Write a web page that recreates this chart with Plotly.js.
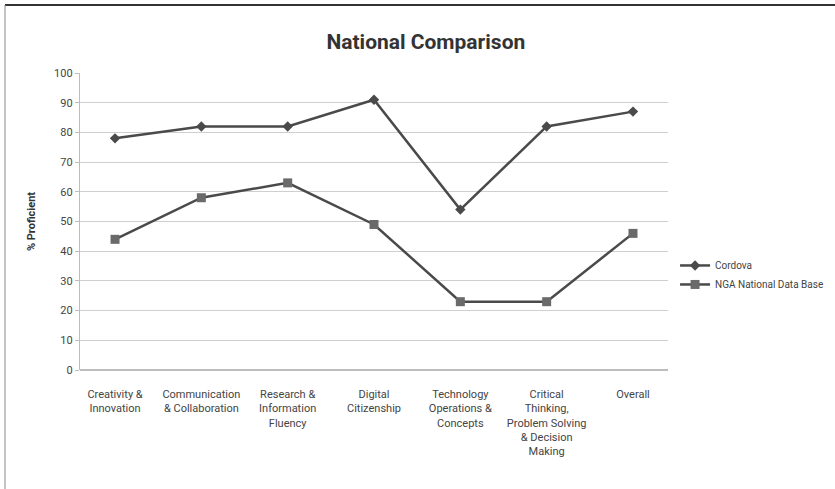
<!DOCTYPE html>
<html>
<head>
<meta charset="utf-8">
<script src="https://cdn.plot.ly/plotly-3.0.1.min.js"></script>
<style>html,body{margin:0;padding:0;background:#fff;}#chart{width:835px;height:489px;}</style>
</head>
<body>
<div id="chart"></div>
<script>
var categories = [
  "Creativity &<br>Innovation",
  "Communication<br>& Collaboration",
  "Research &<br>Information<br>Fluency",
  "Digital<br>Citizenship",
  "Technology<br>Operations &<br>Concepts",
  "Critical<br>Thinking,<br>Problem Solving<br>& Decision<br>Making",
  "Overall"
];
var cordova = [78, 82, 82, 91, 54, 82, 87];
var nga = [44, 58, 63, 49, 23, 23, 46];
var yTicks = [0, 10, 20, 30, 40, 50, 60, 70, 80, 90, 100];

var FONT = "'Liberation Sans Narrow', 'Roboto', sans-serif";
var LINE = "#4a4a4a";

var traces = [
  {
    x: categories, y: cordova, name: "Cordova", type: "scatter", mode: "lines+markers",
    line: {color: LINE, width: 2.5},
    marker: {symbol: "diamond", size: 8, color: LINE}
  },
  {
    x: categories, y: nga, name: "NGA National Data Base", type: "scatter", mode: "lines+markers",
    line: {color: LINE, width: 2.5},
    marker: {symbol: "square", size: 9, color: "#6a6a6a"}
  }
];

var L = 80, R = 167, T = 73, B = 119;
var PW = 835 - L - R, PH = 489 - T - B;

var layout = {
  width: 835, height: 489,
  margin: {l: L, r: R, t: T, b: B, autoexpand: false},
  paper_bgcolor: "#fff", plot_bgcolor: "#fff",
  font: {family: FONT, size: 11, color: "#333"},
  title: {text: "<b>National Comparison</b>", x: 0.51, xanchor: "center", y: 0.915, yanchor: "middle",
          font: {family: FONT, size: 21, color: "#333"}},
  showlegend: true,
  legend: {x: 1.012, y: 0.32, xanchor: "left", yanchor: "middle", font: {family: FONT, size: 10, color: "#444"},
           bgcolor: "rgba(0,0,0,0)", tracegroupgap: 8},
  xaxis: {
    type: "category", showgrid: false, zeroline: false, showline: false,
    ticks: "", ticklabelstandoff: 16, tickfont: {family: FONT, size: 11, color: "#444"},
    tickangle: 0, fixedrange: true
  },
  yaxis: {
    range: [0, 100], tickvals: yTicks, ticktext: yTicks.map(String),
    showgrid: true, gridcolor: "#cfcfcf", gridwidth: 1.2,
    zeroline: true, zerolinecolor: "#bdbdbd", zerolinewidth: 1.2,
    showline: true, linecolor: "#bdbdbd", linewidth: 1.2,
    ticks: "outside", ticklen: 4, tickcolor: "#bdbdbd",
    tickfont: {family: FONT, size: 11, color: "#444"},
    title: {text: "<b>% Proficient</b>", standoff: 16, font: {family: FONT, size: 11, color: "#333"}},
    fixedrange: true
  },
  shapes: [
    {type: "line", xref: "paper", yref: "paper", x0: (5-L)/PW, x1: (835-L)/PW, y0: (489-B-5)/PH, y1: (489-B-5)/PH,
     line: {color: "#333", width: 2}},
    {type: "line", xref: "paper", yref: "paper", x0: (5-L)/PW, x1: (5-L)/PW, y0: (489-B-5)/PH, y1: -B/PH,
     line: {color: "#888", width: 1}}
  ]
};

Plotly.newPlot("chart", traces, layout, {displayModeBar: false, staticPlot: true});
</script>
</body>
</html>
